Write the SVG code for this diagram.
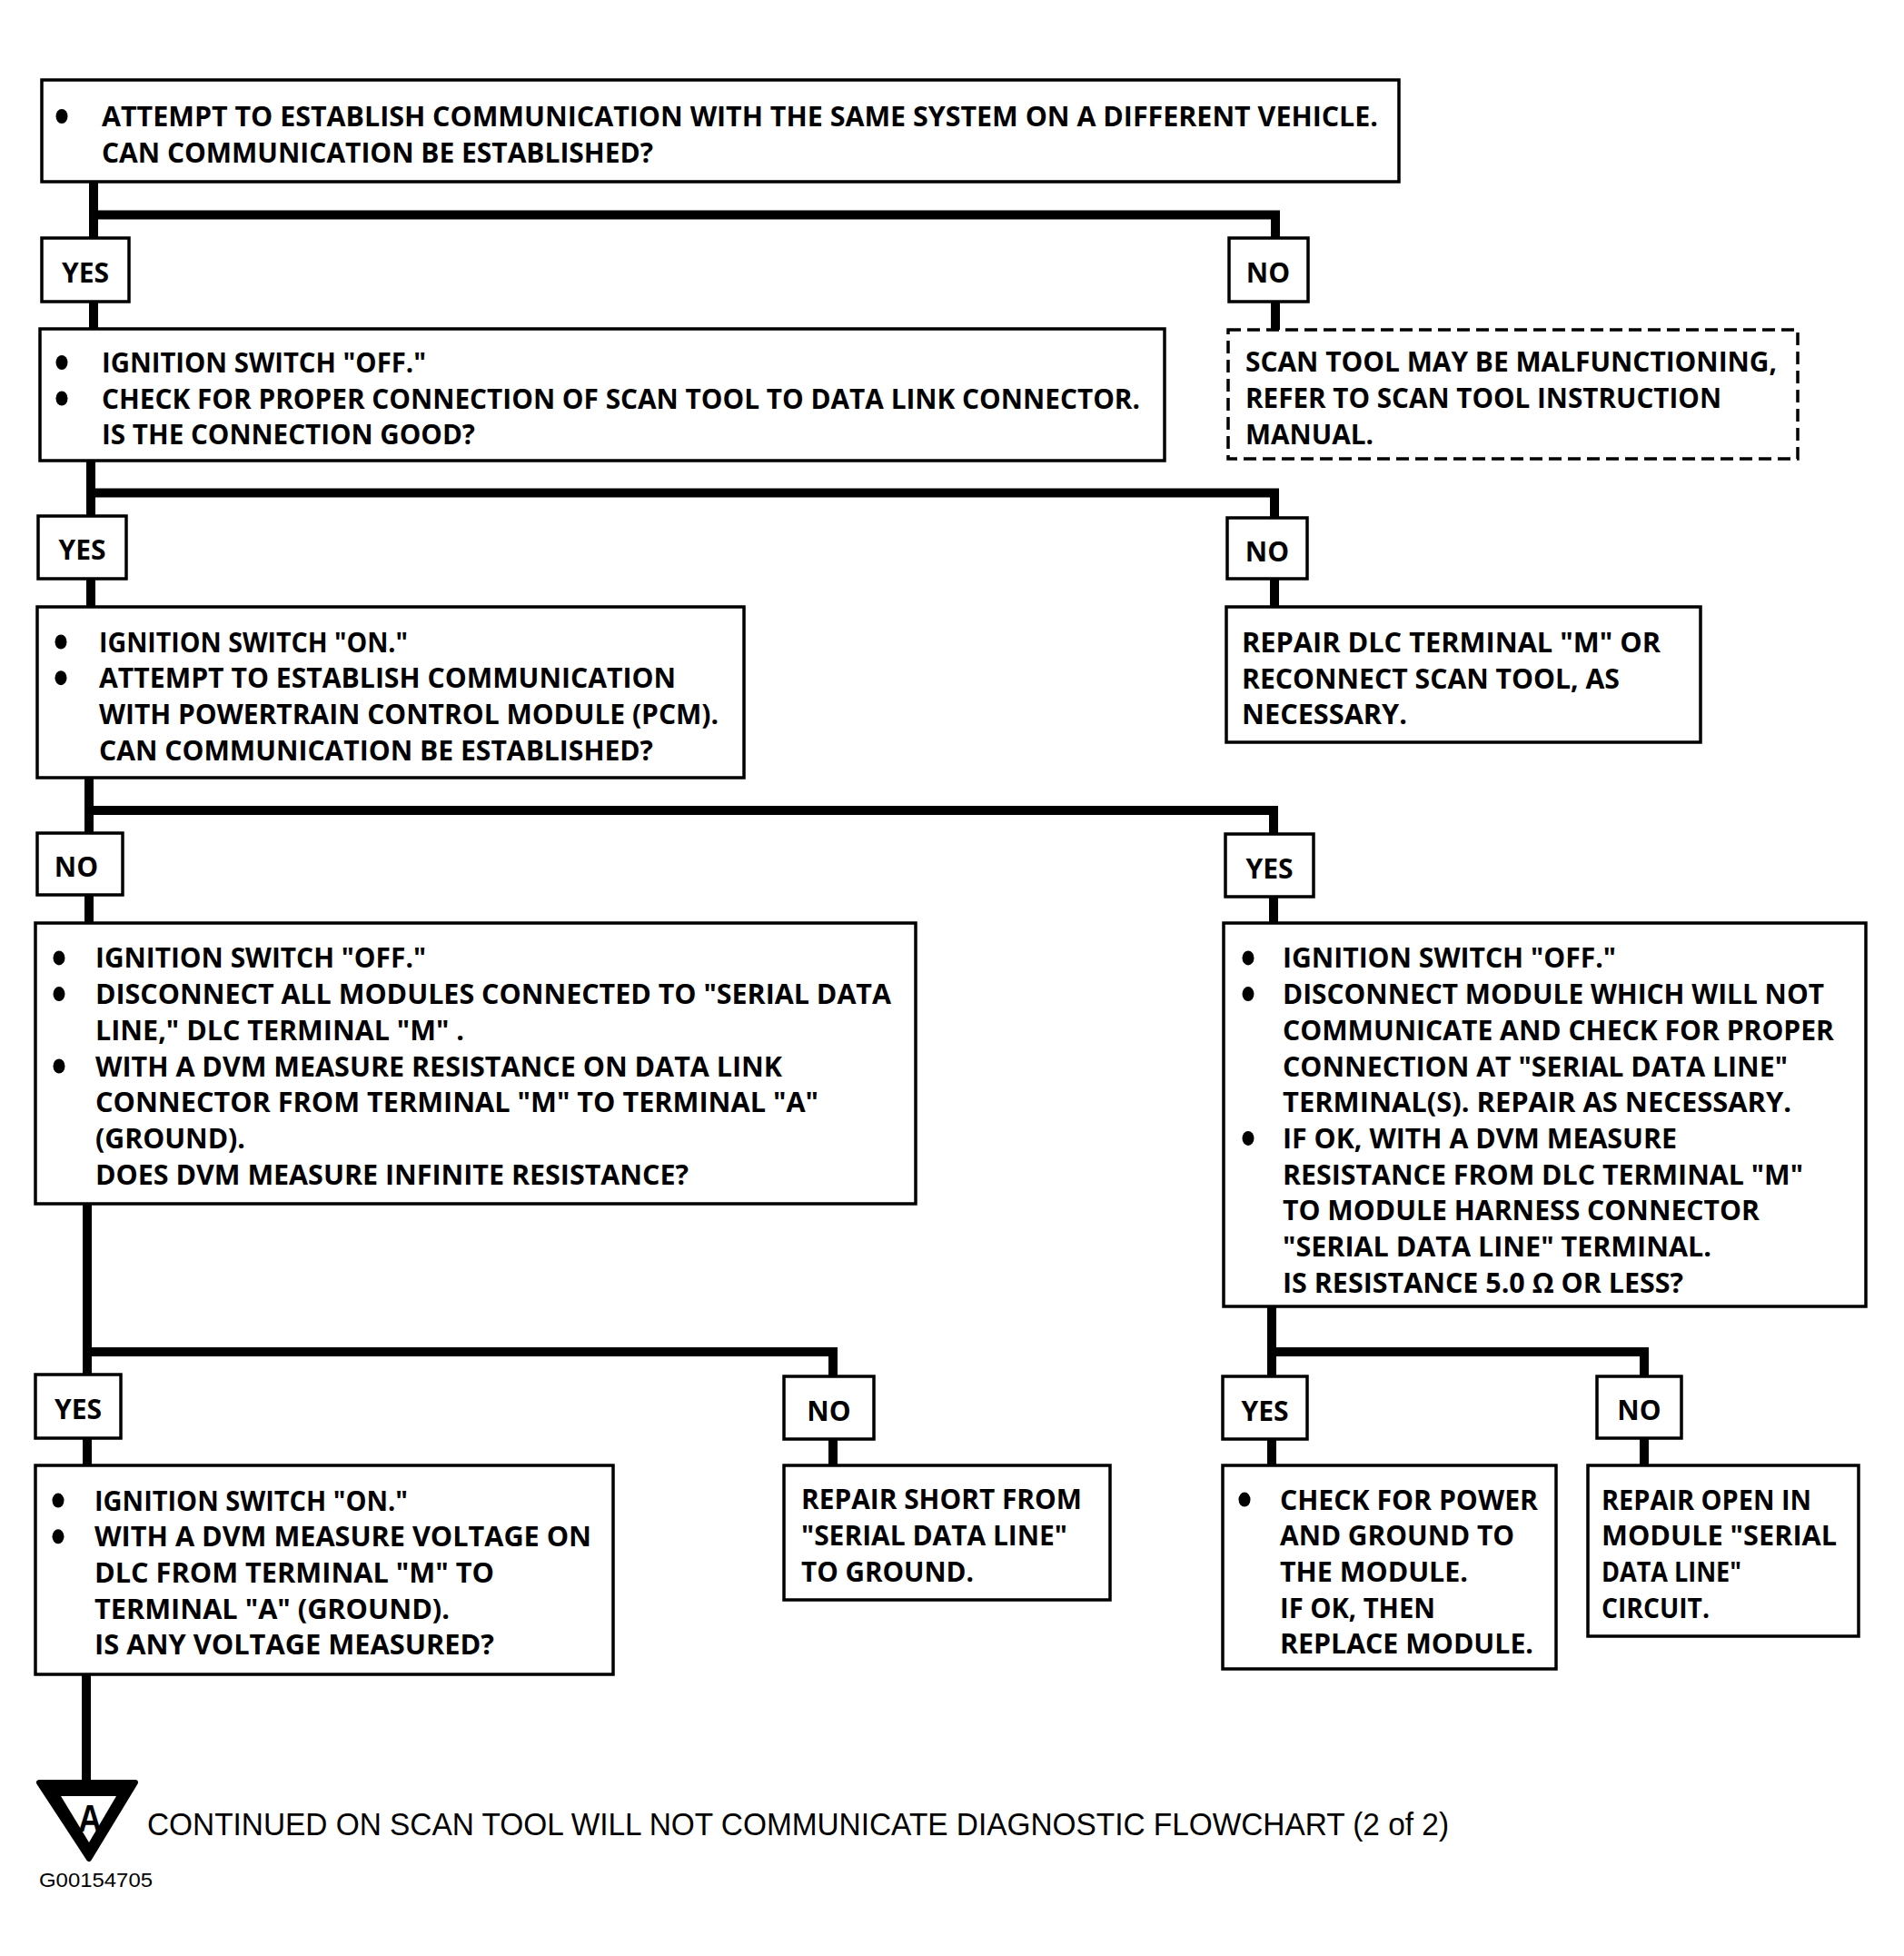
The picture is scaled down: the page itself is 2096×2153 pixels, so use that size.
<svg xmlns="http://www.w3.org/2000/svg" width="2096" height="2153" viewBox="0 0 2096 2153">
<style>
.box{fill:#fff;stroke:#000;stroke-width:3.5}
.dash{fill:#fff;stroke:#000;stroke-width:3.5;stroke-dasharray:14 7}
.t{font-family:"Open Sans","Liberation Sans",sans-serif;font-weight:700;font-size:30px;fill:#000}
.lbl{font-family:"Open Sans","Liberation Sans",sans-serif;font-weight:700;font-size:30px;fill:#000;text-anchor:middle}
.conn{stroke:#000;stroke-width:10;fill:none;stroke-linejoin:miter}
.foot{font-family:"Liberation Sans",Arial,sans-serif;font-size:35px;fill:#000}
</style>
<rect width="2096" height="2153" fill="#fff"/>
<g id="connectors">
<path class="conn" d="M103,200 V362"/>
<path class="conn" d="M103,236.5 H1404 V363"/>
<path class="conn" d="M100,507 V668"/>
<path class="conn" d="M100,542.5 H1403 V668"/>
<path class="conn" d="M98,856 V1016"/>
<path class="conn" d="M98,892 H1402 V1016"/>
<path class="conn" d="M96,1325 V1613"/>
<path class="conn" d="M96,1488 H917 V1613"/>
<path class="conn" d="M1400,1438 V1613"/>
<path class="conn" d="M1400,1488 H1810 V1613"/>
<path class="conn" d="M95,1843 V1964"/>
</g>
<g id="n1">
<rect class="box" x="46" y="88" width="1494" height="112"/>
<ellipse cx="68" cy="128" rx="6.5" ry="8"/>
<text class="t" x="112" y="139" textLength="1405" lengthAdjust="spacingAndGlyphs">ATTEMPT TO ESTABLISH COMMUNICATION WITH THE SAME SYSTEM ON A DIFFERENT VEHICLE.</text>
<text class="t" x="112" y="179" textLength="607" lengthAdjust="spacingAndGlyphs">CAN COMMUNICATION BE ESTABLISHED?</text>
</g>
<g id="yes1"><rect class="box" x="46" y="262" width="96" height="70"/><text class="lbl" x="94" y="311">YES</text></g>
<g id="no1"><rect class="box" x="1353" y="262" width="87" height="70"/><text class="lbl" x="1396" y="311">NO</text></g>
<g id="n2">
<rect class="box" x="44" y="362" width="1238" height="145"/>
<ellipse cx="68" cy="399" rx="6.5" ry="8"/>
<ellipse cx="68" cy="438.5" rx="6.5" ry="8"/>
<text class="t" x="112" y="410" textLength="357" lengthAdjust="spacingAndGlyphs">IGNITION SWITCH "OFF."</text>
<text class="t" x="112" y="449.5" textLength="1143" lengthAdjust="spacingAndGlyphs">CHECK FOR PROPER CONNECTION OF SCAN TOOL TO DATA LINK CONNECTOR.</text>
<text class="t" x="112" y="489" textLength="411" lengthAdjust="spacingAndGlyphs">IS THE CONNECTION GOOD?</text>
</g>
<g id="n_scan">
<rect class="dash" x="1352" y="363" width="627" height="142"/>
<text class="t" x="1371" y="409" textLength="585" lengthAdjust="spacingAndGlyphs">SCAN TOOL MAY BE MALFUNCTIONING,</text>
<text class="t" x="1371" y="449" textLength="524" lengthAdjust="spacingAndGlyphs">REFER TO SCAN TOOL INSTRUCTION</text>
<text class="t" x="1371" y="488.7" textLength="141" lengthAdjust="spacingAndGlyphs">MANUAL.</text>
</g>
<g id="yes2"><rect class="box" x="42" y="568" width="97" height="69"/><text class="lbl" x="90.5" y="616">YES</text></g>
<g id="no2"><rect class="box" x="1351" y="570" width="88" height="67"/><text class="lbl" x="1395" y="617.5">NO</text></g>
<g id="n3">
<rect class="box" x="41" y="668" width="778" height="188"/>
<ellipse cx="67" cy="706.5" rx="6.5" ry="8"/>
<ellipse cx="67" cy="746.2" rx="6.5" ry="8"/>
<text class="t" x="109" y="717.5" textLength="340" lengthAdjust="spacingAndGlyphs">IGNITION SWITCH "ON."</text>
<text class="t" x="109" y="757.2" textLength="635" lengthAdjust="spacingAndGlyphs">ATTEMPT TO ESTABLISH COMMUNICATION</text>
<text class="t" x="109" y="796.9" textLength="682" lengthAdjust="spacingAndGlyphs">WITH POWERTRAIN CONTROL MODULE (PCM).</text>
<text class="t" x="109" y="836.6" textLength="610" lengthAdjust="spacingAndGlyphs">CAN COMMUNICATION BE ESTABLISHED?</text>
</g>
<g id="n_dlc">
<rect class="box" x="1350" y="668" width="522" height="149"/>
<text class="t" x="1367" y="717.8" textLength="461" lengthAdjust="spacingAndGlyphs">REPAIR DLC TERMINAL "M"  OR</text>
<text class="t" x="1367" y="757.5" textLength="416" lengthAdjust="spacingAndGlyphs">RECONNECT SCAN TOOL, AS</text>
<text class="t" x="1367" y="797.2" textLength="182" lengthAdjust="spacingAndGlyphs">NECESSARY.</text>
</g>
<g id="no3"><rect class="box" x="41" y="917" width="94" height="68"/><text class="lbl" x="84" y="965">NO</text></g>
<g id="yes3"><rect class="box" x="1349" y="918" width="97" height="69"/><text class="lbl" x="1397.5" y="966.5">YES</text></g>
<g id="n4">
<rect class="box" x="39" y="1016" width="969" height="309"/>
<ellipse cx="65" cy="1054.4" rx="6.5" ry="8"/>
<ellipse cx="65" cy="1094.1" rx="6.5" ry="8"/>
<ellipse cx="65" cy="1173.5" rx="6.5" ry="8"/>
<text class="t" x="105" y="1065.4" textLength="364" lengthAdjust="spacingAndGlyphs">IGNITION SWITCH "OFF."</text>
<text class="t" x="105" y="1105.1" textLength="876" lengthAdjust="spacingAndGlyphs">DISCONNECT ALL MODULES CONNECTED TO "SERIAL DATA</text>
<text class="t" x="105" y="1144.8" textLength="406" lengthAdjust="spacingAndGlyphs">LINE," DLC TERMINAL "M" .</text>
<text class="t" x="105" y="1184.5" textLength="756" lengthAdjust="spacingAndGlyphs">WITH A DVM MEASURE RESISTANCE ON DATA LINK</text>
<text class="t" x="105" y="1224.2" textLength="796" lengthAdjust="spacingAndGlyphs">CONNECTOR FROM TERMINAL "M"  TO TERMINAL "A"</text>
<text class="t" x="105" y="1263.9" textLength="165" lengthAdjust="spacingAndGlyphs">(GROUND).</text>
<text class="t" x="105" y="1303.6" textLength="653" lengthAdjust="spacingAndGlyphs">DOES DVM MEASURE INFINITE RESISTANCE?</text>
</g>
<g id="n5">
<rect class="box" x="1347" y="1016" width="707" height="422"/>
<ellipse cx="1374" cy="1054.4" rx="6.5" ry="8"/>
<ellipse cx="1374" cy="1094.1" rx="6.5" ry="8"/>
<ellipse cx="1374" cy="1252.9" rx="6.5" ry="8"/>
<text class="t" x="1412" y="1065.4" textLength="367" lengthAdjust="spacingAndGlyphs">IGNITION SWITCH "OFF."</text>
<text class="t" x="1412" y="1105.1" textLength="596" lengthAdjust="spacingAndGlyphs">DISCONNECT MODULE WHICH WILL NOT</text>
<text class="t" x="1412" y="1144.8" textLength="607" lengthAdjust="spacingAndGlyphs">COMMUNICATE AND CHECK FOR PROPER</text>
<text class="t" x="1412" y="1184.5" textLength="556" lengthAdjust="spacingAndGlyphs">CONNECTION AT "SERIAL DATA LINE"</text>
<text class="t" x="1412" y="1224.2" textLength="560" lengthAdjust="spacingAndGlyphs">TERMINAL(S).  REPAIR AS NECESSARY.</text>
<text class="t" x="1412" y="1263.9" textLength="434" lengthAdjust="spacingAndGlyphs">IF OK, WITH A DVM MEASURE</text>
<text class="t" x="1412" y="1303.6" textLength="573" lengthAdjust="spacingAndGlyphs">RESISTANCE FROM DLC TERMINAL "M"</text>
<text class="t" x="1412" y="1343.3" textLength="525" lengthAdjust="spacingAndGlyphs">TO MODULE HARNESS CONNECTOR</text>
<text class="t" x="1412" y="1383" textLength="472" lengthAdjust="spacingAndGlyphs">"SERIAL DATA LINE" TERMINAL.</text>
<text class="t" x="1412" y="1422.7" textLength="441" lengthAdjust="spacingAndGlyphs">IS RESISTANCE 5.0 Ω OR LESS?</text>
</g>
<g id="yes4"><rect class="box" x="39" y="1513" width="94" height="70"/><text class="lbl" x="86" y="1562">YES</text></g>
<g id="no4"><rect class="box" x="863" y="1515" width="99" height="69"/><text class="lbl" x="912.5" y="1563.5">NO</text></g>
<g id="yes5"><rect class="box" x="1346" y="1515" width="93" height="69"/><text class="lbl" x="1392.5" y="1563.5">YES</text></g>
<g id="no5"><rect class="box" x="1758" y="1515" width="93" height="68"/><text class="lbl" x="1804.5" y="1563">NO</text></g>
<g id="n6">
<rect class="box" x="39" y="1613" width="636" height="230"/>
<ellipse cx="64" cy="1651.6" rx="6.5" ry="8"/>
<ellipse cx="64" cy="1691.3" rx="6.5" ry="8"/>
<text class="t" x="104" y="1662.6" textLength="345" lengthAdjust="spacingAndGlyphs">IGNITION SWITCH "ON."</text>
<text class="t" x="104" y="1702.3" textLength="547" lengthAdjust="spacingAndGlyphs">WITH A DVM MEASURE VOLTAGE ON</text>
<text class="t" x="104" y="1742" textLength="440" lengthAdjust="spacingAndGlyphs">DLC FROM TERMINAL "M"  TO</text>
<text class="t" x="104" y="1781.7" textLength="391" lengthAdjust="spacingAndGlyphs">TERMINAL "A" (GROUND).</text>
<text class="t" x="104" y="1821.4" textLength="440" lengthAdjust="spacingAndGlyphs">IS ANY VOLTAGE MEASURED?</text>
</g>
<g id="n7">
<rect class="box" x="863" y="1613" width="359" height="148"/>
<text class="t" x="882" y="1661" textLength="309" lengthAdjust="spacingAndGlyphs">REPAIR SHORT FROM</text>
<text class="t" x="882" y="1701" textLength="293" lengthAdjust="spacingAndGlyphs">"SERIAL DATA LINE"</text>
<text class="t" x="882" y="1741" textLength="190" lengthAdjust="spacingAndGlyphs">TO GROUND.</text>
</g>
<g id="n8">
<rect class="box" x="1346" y="1613" width="367" height="224"/>
<ellipse cx="1370" cy="1650.6" rx="6.5" ry="8"/>
<text class="t" x="1409" y="1661.6" textLength="284" lengthAdjust="spacingAndGlyphs">CHECK FOR POWER</text>
<text class="t" x="1409" y="1701.3" textLength="258" lengthAdjust="spacingAndGlyphs">AND GROUND TO</text>
<text class="t" x="1409" y="1741" textLength="207" lengthAdjust="spacingAndGlyphs">THE MODULE.</text>
<text class="t" x="1409" y="1780.7" textLength="171" lengthAdjust="spacingAndGlyphs">IF OK, THEN</text>
<text class="t" x="1409" y="1820.4" textLength="279" lengthAdjust="spacingAndGlyphs">REPLACE MODULE.</text>
</g>
<g id="n9">
<rect class="box" x="1748" y="1613" width="298" height="188"/>
<text class="t" x="1763" y="1661.5" textLength="231" lengthAdjust="spacingAndGlyphs">REPAIR OPEN IN</text>
<text class="t" x="1763" y="1701.2" textLength="259" lengthAdjust="spacingAndGlyphs">MODULE "SERIAL</text>
<text class="t" x="1763" y="1740.9" textLength="154" lengthAdjust="spacingAndGlyphs">DATA LINE"</text>
<text class="t" x="1763" y="1780.6" textLength="119" lengthAdjust="spacingAndGlyphs">CIRCUIT.</text>
</g>
<g id="offpage">
<path d="M43,1962 L149,1962 L98,2046 Z" fill="#000" stroke="#000" stroke-width="6" stroke-linejoin="round"/>
<path d="M67,1977 L128,1977 L98,2028 Z" fill="#fff"/>
<text x="86" y="2016" font-family="Liberation Sans, Arial, sans-serif" font-weight="700" font-size="42" textLength="26" lengthAdjust="spacingAndGlyphs">A</text>
</g>
<text class="foot" x="162" y="2020" textLength="1433" lengthAdjust="spacingAndGlyphs">CONTINUED  ON SCAN TOOL WILL NOT COMMUNICATE DIAGNOSTIC FLOWCHART (2 of 2)</text>
<text x="43" y="2077" font-family="Liberation Sans, Arial, sans-serif" font-size="22" textLength="125" lengthAdjust="spacingAndGlyphs">G00154705</text>
</svg>
